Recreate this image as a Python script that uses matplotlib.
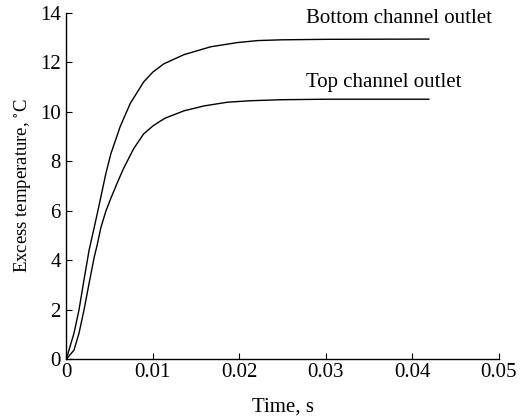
import matplotlib
matplotlib.use("Agg")
import matplotlib.pyplot as plt

plt.rcParams.update({
    "font.family": ["Liberation Serif", "DejaVu Serif"],
    "mathtext.fontset": "stix",
    "font.size": 15,
})

# Values (time in s, excess temperature in deg C)
t_bottom = [0, 0.00029, 0.00087, 0.00145, 0.00203, 0.00262, 0.0032, 0.00358,
            0.00398, 0.00456, 0.00514, 0.00622, 0.00738, 0.00893, 0.01,
            0.01126, 0.01358, 0.01669, 0.01979, 0.02212, 0.02483, 0.03, 0.0419]
v_bottom = [0, 0.36, 1.04, 1.98, 3.2, 4.4, 5.3, 5.9,
            6.55, 7.5, 8.3, 9.4, 10.33, 11.2, 11.6,
            11.93, 12.3, 12.62, 12.79, 12.87, 12.9, 12.92, 12.93]

t_top = [0, 0.00029, 0.00087, 0.00145, 0.00203, 0.00262, 0.0032, 0.00358,
         0.00398, 0.00456, 0.00514, 0.00591, 0.0066, 0.00777, 0.00893,
         0.01, 0.01087, 0.01145, 0.01358, 0.01591, 0.01863, 0.02134, 0.02483,
         0.03, 0.0419]
v_top = [0, 0.12, 0.36, 1.04, 1.98, 3.06, 4.1, 4.65,
         5.31, 5.98, 6.5, 7.15, 7.7, 8.5, 9.1,
         9.42, 9.62, 9.74, 10.03, 10.23, 10.38, 10.44, 10.48,
         10.5, 10.5]

xticks = [0, 0.01, 0.02, 0.03, 0.04, 0.05]
xticklabels = ["0", "0.01", "0.02", "0.03", "0.04", "0.05"]
yticks = [0, 2, 4, 6, 8, 10, 12, 14]

fig = plt.figure(figsize=(5.23, 4.2), dpi=100)
ax = fig.add_axes([0.127, 0.145, 0.827, 0.825])

ax.plot(t_bottom, v_bottom, color="black", linewidth=1.0)
ax.plot(t_top, v_top, color="black", linewidth=1.0)

ax.text(0.0277, 13.57, "Bottom channel outlet", fontsize=15, va="baseline")
ax.text(0.0277, 10.98, "Top channel outlet", fontsize=15, va="baseline")

ax.set_xlim(0, 0.05)
ax.set_ylim(0, 14)
ax.set_xticks(xticks)
ax.set_xticklabels(xticklabels)
ax.set_yticks(yticks)
ax.tick_params(direction="in", length=4, width=0.8, labelsize=15)
ax.tick_params(axis="x", pad=3)
ax.tick_params(axis="y", pad=4)

ax.set_xlabel("Time, s", fontsize=15, labelpad=11)
ax.set_ylabel("Excess temperature, $^{\\circ}$C", fontsize=13.5, labelpad=5)

for spine in ["top", "right"]:
    ax.spines[spine].set_visible(False)
for spine in ["left", "bottom"]:
    ax.spines[spine].set_linewidth(1.0)

fig.savefig("out.png", dpi=100)
